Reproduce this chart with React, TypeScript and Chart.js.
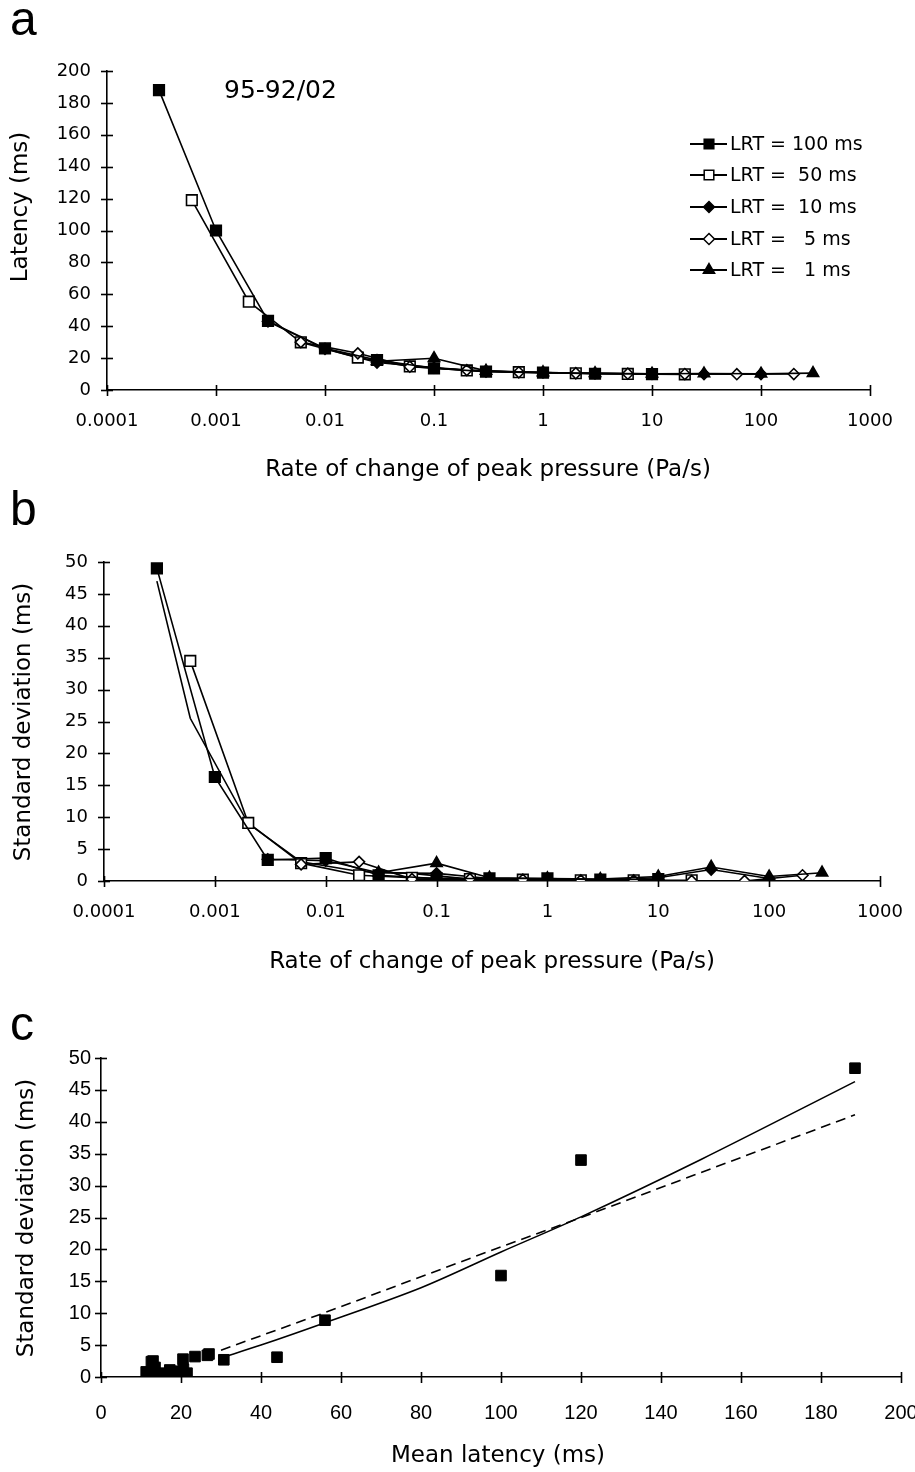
import React, { useEffect, useRef } from "react";
import { Chart, registerables } from "chart.js";

Chart.register(...registerables);

// ---------- shared axis ticks ----------
const rateTickValues = [0.0001, 0.001, 0.01, 0.1, 1, 10, 100, 1000];
const rateTickLabels = ["0.0001", "0.001", "0.01", "0.1", "1", "10", "100", "1000"];
const legendLabels = ["LRT = 100 ms", "LRT =  50 ms", "LRT =  10 ms", "LRT =   5 ms", "LRT =   1 ms"];

// ---------- panel a / b data (rate of change of peak pressure, Pa/s) ----------
const ratesLRT100 = [0.0003, 0.001, 0.003, 0.01, 0.03, 0.1, 0.3, 1, 3, 10];
const latencyLRT100 = [188, 100, 43.3, 26.1, 18.8, 13.6, 11.5, 10.9, 10.2, 10.0];
const sdLRT100 = [49.0, 16.3, 3.3, 3.6, 0.9, 0.4, 0.4, 0.4, 0.2, 0.3];

const ratesLRT50 = [0.0006, 0.002, 0.006, 0.02, 0.06, 0.2, 0.6, 2, 6, 20];
const latencyLRT50 = [119, 55.4, 29.9, 20.3, 14.8, 12.3, 11.2, 10.5, 10.1, 9.8];
const sdLRT50 = [34.5, 9.1, 2.8, 0.9, 0.5, 0.3, 0.2, 0.1, 0.1, 0.1];

const ratesLRT10 = [0.003, 0.01, 0.03, 0.1, 0.3, 1, 3, 10, 30, 100];
const latencyLRT10 = [43.0, 25.8, 17.2, 14.0, 11.6, 11.0, 10.4, 10.1, 10.0, 10.0];
const sdLRT10 = [3.4, 3.2, 1.3, 1.2, 0.4, 0.3, 0.2, 0.5, 1.8, 0.4];

const ratesLRT5 = [0.006, 0.02, 0.06, 0.2, 0.6, 2, 6, 20, 60, 200];
const latencyLRT5 = [30.0, 23.0, 14.6, 12.5, 11.1, 10.5, 10.2, 10.0, 9.9, 10.0];
const sdLRT5 = [2.6, 3.0, 0.3, 0.3, 0.2, 0.1, 0.1, 0.0, 0.0, 0.9];

const ratesLRT1 = [0.03, 0.1, 0.3, 1, 3, 10, 30, 100, 300];
const latencyLRT1 = [18.0, 19.9, 12.0, 11.0, 10.5, 10.2, 10.3, 10.2, 10.6];
const sdLRT1 = [1.3, 2.8, 0.5, 0.4, 0.3, 0.7, 2.2, 0.7, 1.3];

// unmarked line in panel b
const ratesExtra = [0.0003, 0.0006, 0.002, 0.006, 0.02, 0.06, 0.2, 0.6, 2, 6, 20, 60, 300];
const sdExtra = [47.0, 25.5, 9.0, 3.0, 1.5, 1.2, 0.3, 0.1, 0.0, 0.0, 0.0, 0.0, 0.0];

// ---------- panel c data ----------
const meanLatencyC = [188.5, 120, 100, 56, 44, 30.7, 27, 26.6, 23.5, 20.5, 13, 12.6, 12.1, 14.7, 17.2, 20.6, 21.5, 11.3, 13.5, 15.5, 16, 18.5, 19.8, 11.8, 12.4];
const sdC = [48.4, 34, 15.9, 8.9, 3.1, 2.7, 3.6, 3.4, 3.2, 2.8, 2.5, 2.4, 0.6, 0.6, 1.1, 1.2, 0.6, 0.8, 1.5, 0.4, 0.3, 0.5, 0.9, 0.2, 0.1];
const solidFitX = [30, 40, 56, 80, 100, 120, 150, 188.5];
const solidFitY = [3.0, 5.0, 8.5, 14.0, 19.6, 25.1, 34.1, 46.3];
const dashedFitX = [30, 56, 100, 120, 188.5];
const dashedFitY = [4.2, 10.1, 20.4, 25.0, 41.1];

const pts = (xs: number[], ys: number[]) => xs.map((x, i) => ({ x, y: ys[i] }));

const TICK_FONT = '"DejaVu Sans", sans-serif';

type Mk = "fsq" | "osq" | "fdi" | "odi" | "tri";

function drawMarker(ctx: CanvasRenderingContext2D, kind: Mk, x: number, y: number) {
  ctx.save();
  ctx.lineWidth = 1.5;
  ctx.strokeStyle = "#000";
  ctx.fillStyle = kind === "osq" || kind === "odi" ? "#fff" : "#000";
  ctx.beginPath();
  if (kind === "fsq" || kind === "osq") {
    const s = 4.8;
    ctx.rect(x - s, y - s, 2 * s, 2 * s);
  } else if (kind === "fdi" || kind === "odi") {
    const r = 5.5;
    ctx.moveTo(x - r, y);
    ctx.lineTo(x, y - r);
    ctx.lineTo(x + r, y);
    ctx.lineTo(x, y + r);
    ctx.closePath();
  } else {
    const r = 6.5;
    for (let k = 0; k < 3; k++) {
      const a = (k * 2 * Math.PI) / 3;
      const px = x + Math.sin(a) * r;
      const py = y - Math.cos(a) * r;
      if (k === 0) ctx.moveTo(px, py);
      else ctx.lineTo(px, py);
    }
    ctx.closePath();
  }
  ctx.fill();
  ctx.stroke();
  ctx.restore();
}

type TextItem = { t: string; x: number; y: number; font: string; align?: CanvasTextAlign; rot?: boolean };

const overlayPlugin = {
  id: "overlay",
  afterDraw(chart: any, _args: any, opts: any) {
    const ctx: CanvasRenderingContext2D = chart.ctx;
    const area = chart.chartArea;
    const xs = chart.scales.x;
    const ys = chart.scales.y;
    const top = opts.top || 0;
    ctx.save();
    ctx.strokeStyle = "#000";
    ctx.lineWidth = 1.6;
    for (const tk of xs.ticks) {
      const px = Math.round(xs.getPixelForValue(tk.value)) + 0.5;
      ctx.beginPath();
      ctx.moveTo(px, area.bottom - 5);
      ctx.lineTo(px, area.bottom + 6);
      ctx.stroke();
    }
    for (const tk of ys.ticks) {
      const py = Math.round(ys.getPixelForValue(tk.value)) + 0.5;
      ctx.beginPath();
      ctx.moveTo(area.left - 6, py);
      ctx.lineTo(area.left + 6, py);
      ctx.stroke();
    }
    ctx.fillStyle = "#000";
    for (const it of (opts.texts || []) as TextItem[]) {
      ctx.save();
      ctx.font = it.font;
      ctx.textAlign = it.align || "center";
      ctx.textBaseline = "middle";
      if (it.rot) {
        ctx.translate(it.x, it.y - top);
        ctx.rotate(-Math.PI / 2);
        ctx.fillText(it.t, 0, 0);
      } else {
        ctx.fillText(it.t, it.x, it.y - top);
      }
      ctx.restore();
    }
    if (opts.legend) {
      const kinds: Mk[] = ["fsq", "osq", "fdi", "odi", "tri"];
      const ysL = [144, 175, 207, 239, 270];
      kinds.forEach((k, i) => {
        const y = ysL[i] - top;
        ctx.beginPath();
        ctx.lineWidth = 1.8;
        ctx.moveTo(690, y);
        ctx.lineTo(727, y);
        ctx.stroke();
        drawMarker(ctx, k, 709, y);
        ctx.font = `19px ${TICK_FONT}`;
        ctx.textAlign = "left";
        ctx.textBaseline = "middle";
        ctx.fillText(legendLabels[i], 730, y + 1);
      });
    }
    ctx.restore();
  },
};

function baseDataset(data: any[], style: string, radius: number, filled: boolean, order: number) {
  return {
    data,
    borderColor: "#000",
    borderWidth: 1.6,
    pointStyle: style,
    pointRadius: radius,
    pointBackgroundColor: filled ? "#000" : "#fff",
    pointBorderColor: "#000",
    pointBorderWidth: 1.6,
    tension: 0,
    fill: false,
    order,
  };
}

function axisCommon(fontFamily: string, size: number, padding: number) {
  return {
    grid: { display: true, drawOnChartArea: false, drawTicks: false },
    border: { display: true, color: "#000", width: 1.6 },
    ticks: { color: "#000", font: { family: fontFamily, size }, padding, maxRotation: 0, autoSkip: false },
  };
}

function rateXAxis(height: number, padding: number) {
  const c = axisCommon(TICK_FONT, 18, padding);
  return {
    type: "logarithmic",
    min: 0.0001,
    max: 1000,
    ...c,
    ticks: { ...c.ticks, callback: (_v: any, i: number) => rateTickLabels[i] },
    afterBuildTicks: (s: any) => {
      s.ticks = rateTickValues.map((v) => ({ value: v }));
    },
    afterFit: (s: any) => {
      s.height = height;
      s.paddingLeft = 0;
      s.paddingRight = 0;
    },
  };
}

function linYAxis(max: number, step: number, width: number, padding: number, family: string, size: number) {
  const c = axisCommon(family, size, padding);
  return {
    type: "linear",
    min: 0,
    max,
    ...c,
    ticks: { ...c.ticks, stepSize: step },
    afterFit: (s: any) => {
      s.width = width;
      s.paddingTop = 0;
      s.paddingBottom = 0;
    },
  };
}

function makeConfigA() {
  return {
    type: "line",
    data: {
      datasets: [
        baseDataset(pts(ratesLRT10, latencyLRT10), "rectRot", 5.5, true, 4),
        baseDataset(pts(ratesLRT50, latencyLRT50), "rect", 7.5, false, 3),
        baseDataset(pts(ratesLRT5, latencyLRT5), "rectRot", 5.5, false, 2),
        baseDataset(pts(ratesLRT100, latencyLRT100), "rect", 7.5, true, 1),
        baseDataset(pts(ratesLRT1, latencyLRT1), "triangle", 6.5, true, 0),
      ],
    },
    options: {
      animation: false,
      responsive: false,
      devicePixelRatio: 1,
      layout: { padding: { left: 0, right: 45, top: 71, bottom: 0 } },
      plugins: {
        legend: { display: false },
        tooltip: { enabled: false },
        overlay: {
          top: 0,
          legend: true,
          texts: [
            { t: "a", x: 10, y: 22, font: '48px "Liberation Sans", sans-serif', align: "left" },
            { t: "95-92/02", x: 224, y: 91, font: `25px ${TICK_FONT}`, align: "left" },
            { t: "Rate of change of peak pressure (Pa/s)", x: 488, y: 470, font: `23px ${TICK_FONT}` },
            { t: "Latency (ms)", x: 21, y: 207, font: `23px ${TICK_FONT}`, rot: true },
          ],
        },
      },
      scales: {
        x: rateXAxis(100, 21),
        y: linYAxis(200, 20, 107, 16, TICK_FONT, 18),
      },
    },
    plugins: [overlayPlugin],
  };
}

function makeConfigB() {
  const extra = { ...baseDataset(pts(ratesExtra, sdExtra), "circle", 0, true, 5) };
  return {
    type: "line",
    data: {
      datasets: [
        extra,
        baseDataset(pts(ratesLRT10, sdLRT10), "rectRot", 5.5, true, 4),
        baseDataset(pts(ratesLRT50, sdLRT50), "rect", 7.5, false, 3),
        baseDataset(pts(ratesLRT5, sdLRT5), "rectRot", 5.5, false, 2),
        baseDataset(pts(ratesLRT100, sdLRT100), "rect", 7.5, true, 1),
        baseDataset(pts(ratesLRT1, sdLRT1), "triangle", 6.5, true, 0),
      ],
    },
    options: {
      animation: false,
      responsive: false,
      devicePixelRatio: 1,
      layout: { padding: { left: 0, right: 35, top: 72, bottom: 0 } },
      plugins: {
        legend: { display: false },
        tooltip: { enabled: false },
        overlay: {
          top: 490,
          texts: [
            { t: "b", x: 10, y: 512, font: '48px "Liberation Sans", sans-serif', align: "left" },
            { t: "Rate of change of peak pressure (Pa/s)", x: 492, y: 962, font: `23px ${TICK_FONT}` },
            { t: "Standard deviation (ms)", x: 24, y: 722, font: `23px ${TICK_FONT}`, rot: true },
          ],
        },
      },
      scales: {
        x: rateXAxis(109, 21),
        y: linYAxis(50, 5, 104, 16, TICK_FONT, 18),
      },
    },
    plugins: [overlayPlugin],
  };
}

function makeConfigC() {
  const C_FONT = '"Liberation Sans Narrow", "Liberation Sans", sans-serif';
  const xC = {
    ...linYAxis(200, 20, 0, 24, C_FONT, 20),
    afterFit: (s: any) => {
      s.height = 95;
      s.paddingLeft = 0;
      s.paddingRight = 0;
    },
  };
  return {
    type: "scatter",
    data: {
      datasets: [
        {
          data: pts(meanLatencyC, sdC),
          pointStyle: "rect",
          pointRadius: 7.5,
          pointBackgroundColor: "#000",
          pointBorderColor: "#000",
          borderWidth: 1,
          showLine: false,
          order: 0,
        },
        {
          data: pts(solidFitX, solidFitY),
          showLine: true,
          pointRadius: 0,
          borderColor: "#000",
          borderWidth: 1.6,
          tension: 0.3,
          fill: false,
          order: 1,
        },
        {
          data: pts(dashedFitX, dashedFitY),
          showLine: true,
          pointRadius: 0,
          borderColor: "#000",
          borderWidth: 1.6,
          borderDash: [10, 6],
          tension: 0,
          fill: false,
          order: 2,
        },
      ],
    },
    options: {
      animation: false,
      responsive: false,
      devicePixelRatio: 1,
      layout: { padding: { left: 0, right: 14, top: 68, bottom: 0 } },
      plugins: {
        legend: { display: false },
        tooltip: { enabled: false },
        overlay: {
          top: 990,
          texts: [
            { t: "c", x: 10, y: 1027, font: '48px "Liberation Sans", sans-serif', align: "left" },
            { t: "Mean latency (ms)", x: 498, y: 1456, font: `23px ${TICK_FONT}` },
            { t: "Standard deviation (ms)", x: 27, y: 1218, font: `23px ${TICK_FONT}`, rot: true },
          ],
        },
      },
      scales: {
        x: xC,
        y: linYAxis(50, 5, 101, 10, C_FONT, 20),
      },
    },
    plugins: [overlayPlugin],
  };
}

function Panel({ top, height, make }: { top: number; height: number; make: () => any }) {
  const ref = useRef<HTMLCanvasElement | null>(null);
  useEffect(() => {
    if (!ref.current) return;
    const chart = new Chart(ref.current, make());
    return () => chart.destroy();
  }, [make]);
  return (
    <canvas
      ref={ref}
      width={915}
      height={height}
      style={{ position: "absolute", left: 0, top, width: 915, height, display: "block" }}
    />
  );
}

export default function App() {
  return (
    <div style={{ position: "absolute", left: 0, top: 0, width: 915, height: 1472, background: "#fff", overflow: "hidden" }}>
      <Panel top={0} height={490} make={makeConfigA} />
      <Panel top={490} height={500} make={makeConfigB} />
      <Panel top={990} height={482} make={makeConfigC} />
    </div>
  );
}
